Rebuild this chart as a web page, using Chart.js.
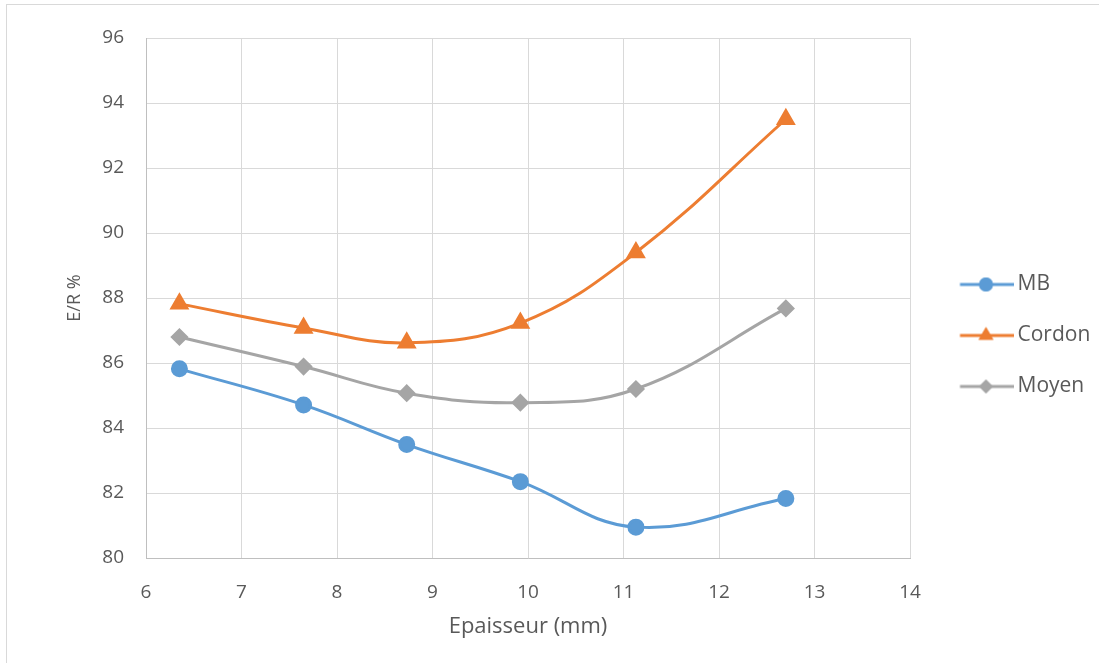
<!DOCTYPE html>
<html>
<head>
<meta charset="utf-8">
<script src="https://cdn.jsdelivr.net/npm/chart.js@4/dist/chart.umd.min.js"></script>
<style>
  html, body { margin: 0; padding: 0; background: #fff; overflow: hidden; }
  #frame { position: absolute; left: 6px; top: 4px; width: 1200px; height: 800px; border: 1px solid #d9d9d9; }
  #wrap { position: absolute; left: 0; top: 0; width: 1099px; height: 663px; }
</style>
</head>
<body>
<div id="frame"></div>
<div id="wrap"><canvas id="myChart" width="1099" height="663"></canvas></div>
<script>
// epaisseur (mm) et E/R %
const epaisseur = [6.35, 7.65, 8.73, 9.92, 11.13, 12.7];
const mb = [85.82, 84.71, 83.49, 82.35, 80.95, 81.83];
const cordon = [87.82, 87.08, 86.62, 87.23, 89.4, 93.5];
const moyen = [86.8, 85.89, 85.07, 84.78, 85.2, 87.68];

const xTicks = [6, 7, 8, 9, 10, 11, 12, 13, 14];
const yTicks = [80, 82, 84, 86, 88, 90, 92, 94, 96];

const couleurs = ['#5b9bd5', '#ed7d31', '#a5a5a5'];
const formes = ['circle', 'triangle', 'rectRot'];
const tailles = [7, 8.5, 7];
const noms = ['MB', 'Cordon', 'Moyen'];
const series = [mb, cordon, moyen];

const fontFam = "'Open Sans', sans-serif";
const gris = '#595959';

// petite icone ligne + marqueur pour la legende
function iconeLegende(couleur, forme, r) {
    const c = document.createElement('canvas');
    c.width = 80;
    c.height = 22;
    const g = c.getContext('2d');
    g.strokeStyle = couleur;
    g.lineWidth = 3;
    g.beginPath();
    g.moveTo(26.5, 11);
    g.lineTo(80, 11);
    g.stroke();
    g.fillStyle = couleur;
    Chart.helpers.drawPoint(g, { pointStyle: forme, radius: r, borderWidth: 0 }, 52.5, 11);
    g.fill();
    return c;
}

const icones = couleurs.map((c, i) => iconeLegende(c, formes[i], tailles[i]));

const datasets = series.map((s, i) => ({
    label: noms[i],
    data: epaisseur.map((x, j) => ({ x: x, y: s[j] })),
    borderColor: couleurs[i],
    backgroundColor: couleurs[i],
    pointBackgroundColor: couleurs[i],
    pointBorderColor: couleurs[i],
    pointStyle: formes[i],
    pointRadius: tailles[i],
    pointHoverRadius: tailles[i],
    borderWidth: 3,
    tension: 0.4,
    fill: false
}));

// largeur fixe et position de la legende
const legendeFixe = {
    id: 'legendeFixe',
    beforeLayout(chart) {
        const lg = chart.legend;
        if (lg && !lg._fixe) {
            const f = lg.fit.bind(lg);
            lg.fit = function () { f(); this.width = 189; };
            lg._fixe = true;
        }
    },
    afterLayout(chart) {
        const lg = chart.legend;
        if (lg) {
            lg.top -= 15;
            lg.bottom -= 15;
        }
    }
};

const ctx = document.getElementById('myChart').getContext('2d');

new Chart(ctx, {
    type: 'line',
    data: { datasets: datasets },
    plugins: [legendeFixe],
    options: {
        responsive: false,
        animation: false,
        layout: { padding: { top: 38, left: 0, right: 0, bottom: 0 } },
        plugins: {
            tooltip: { enabled: false },
            legend: {
                position: 'right',
                labels: {
                    usePointStyle: true,
                    pointStyleWidth: 67,
                    padding: 30,
                    color: gris,
                    font: { family: fontFam, size: 21 },
                    generateLabels(chart) {
                        return noms.map((n, i) => ({
                            text: n,
                            pointStyle: icones[i],
                            fillStyle: couleurs[i],
                            strokeStyle: couleurs[i],
                            lineWidth: 0,
                            fontColor: gris,
                            datasetIndex: i,
                            hidden: false
                        }));
                    }
                }
            }
        },
        scales: {
            x: {
                type: 'linear',
                min: 6,
                max: 14,
                afterBuildTicks(scale) { scale.ticks = xTicks.map(v => ({ value: v })); },
                afterFit(scale) { scale.height = 105; },
                grid: { color: '#d9d9d9', drawTicks: false },
                border: { color: '#bfbfbf' },
                ticks: { padding: 23, color: gris, font: { family: fontFam, size: 19 } },
                title: {
                    display: true,
                    text: 'Epaisseur (mm)',
                    color: gris,
                    font: { family: fontFam, size: 22 },
                    padding: { top: 0, bottom: 23 }
                }
            },
            y: {
                min: 80,
                max: 96,
                afterBuildTicks(scale) { scale.ticks = yTicks.map(v => ({ value: v })); },
                afterFit(scale) { scale.width = 146; },
                grid: { color: '#d9d9d9', drawTicks: false },
                border: { color: '#bfbfbf' },
                ticks: { padding: 22, color: gris, font: { family: fontFam, size: 19 } },
                title: {
                    display: true,
                    text: 'E/R %',
                    color: gris,
                    font: { family: fontFam, size: 18 },
                    padding: { top: 64, bottom: 0 }
                }
            }
        }
    }
});
</script>
</body>
</html>
